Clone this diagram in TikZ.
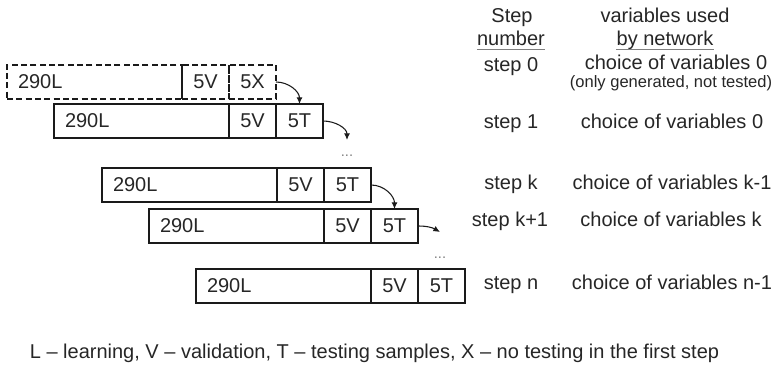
\documentclass[tikz,border=0pt]{standalone}
\usepackage{fontspec}
\setmainfont{Liberation Sans}
\usetikzlibrary{arrows.meta,calc}
\definecolor{txt}{HTML}{262626}
\definecolor{ln}{HTML}{1A1A1A}
\newcommand\seqrow[7]{%
  \node[lcell,#7,anchor=north west] (#1L) at (#2,#3) {#4};
  \node[scell,#7,anchor=west] (#1V) at (#1L.east) {#5};
  \node[scell,#7,anchor=west] (#1T) at (#1V.east) {#6};
}
\begin{document}
\begin{tikzpicture}[x=0.75pt,y=-0.75pt,
  cell/.style={draw=ln, line width=1pt, minimum height=25.5pt, inner sep=0pt, outer sep=0pt,
    font=\fontsize{15}{18}\selectfont, text=txt},
  lcell/.style={cell, text width=114.75pt, inner xsep=8.25pt, align=left, minimum width=131.25pt},
  scell/.style={cell, minimum width=35.25pt},
  dcell/.style={dash pattern=on 4.5pt off 2.5pt},
  lab/.style={inner sep=0pt, font=\fontsize{15}{18}\selectfont, text=txt, anchor=base},
  small/.style={lab, font=\fontsize{12.4}{14}\selectfont},
  flow/.style={draw=ln, line width=0.8pt, -{Latex[length=5pt,width=4.5pt]}},
  uline/.style={draw=gray, line width=1.2pt},
  dots/.style={inner sep=0pt, font=\fontsize{11}{12}\selectfont, text=gray}]
\useasboundingbox (0,0) rectangle (775,367);

\seqrow{r0}{7}{65}{290L}{5V}{5X}{dcell}
\seqrow{r1}{54}{104}{290L}{5V}{5T}{solid}
\seqrow{rk}{102}{168}{290L}{5V}{5T}{solid}
\seqrow{rm}{149}{209}{290L}{5V}{5T}{solid}
\seqrow{rn}{196}{269}{290L}{5V}{5T}{solid}

\coordinate (a1) at (347,140);
\coordinate (a3) at (440,232);
\draw[flow] (r0T.east) to[out=0,in=90] (r1T.north);
\draw[flow] (r1T.east) to[out=0,in=90] (a1);
\draw[flow] (rkT.east) to[out=0,in=90] (rmT.north);
\draw[flow] (rmT.east) to[out=0,in=150] (a3);
\node[dots] (d1) at (347,156) {...};
\node[dots] (d2) at (440,258) {...};

\node[lab] (h1) at (512,23) {Step};
\node[lab] (h2) at (511,46) {number};
\node[lab] (h3) at (665,23) {variables used};
\node[lab] (h4) at (665,46) {by network};
\draw[uline] ($(h2.base west)+(0,3.5)$) -- ($(h2.base east)+(0,3.5)$);
\draw[uline] ($(h4.base west)+(0,3.5)$) -- ($(h4.base east)+(0,3.5)$);

\node[lab] (s0) at (511,72) {step 0};
\node[lab] (c0) at (676,70) {choice of variables 0};
\node[small] (c0b) at (671,88) {(only generated, not tested)};
\node[lab] (s1) at (511,129) {step 1};
\node[lab] (c1) at (672,129) {choice of variables 0};
\node[lab] (sk) at (511,190) {step k};
\node[lab] (ck) at (672,190) {choice of variables k-1};
\node[lab] (sm) at (510,227) {step k+1};
\node[lab] (cm) at (671,227) {choice of variables k};
\node[lab] (sn) at (511,289) {step n};
\node[lab] (cn) at (672,289) {choice of variables n-1};

\node[lab] (legend) at (374.5,358) {L -- learning, V -- validation, T -- testing samples, X -- no testing in the first step};
\end{tikzpicture}
\end{document}
